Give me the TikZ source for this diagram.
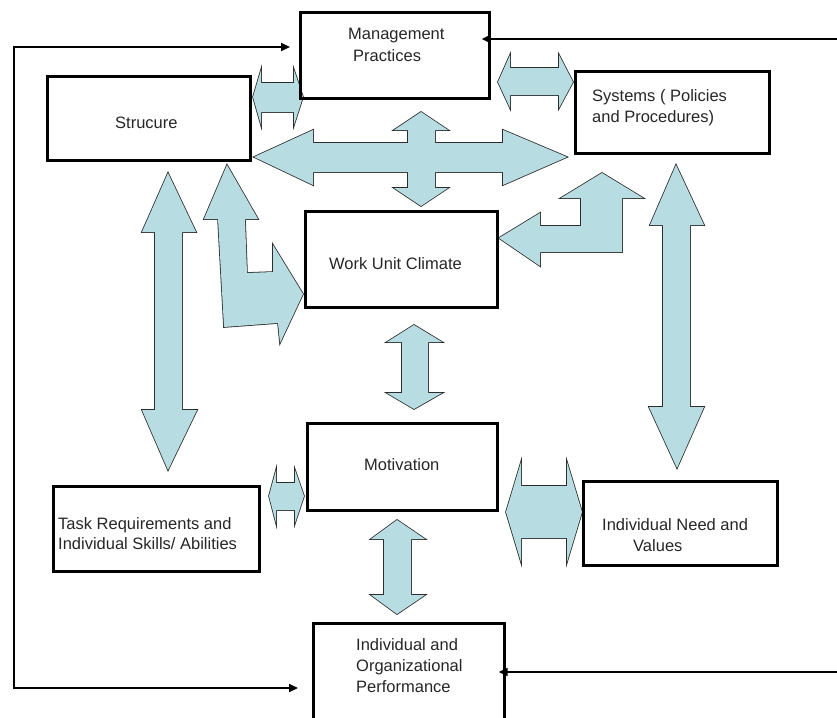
\documentclass[tikz,border=0pt]{standalone}
\usepackage{fontspec}
\setmainfont{Liberation Sans}
\usetikzlibrary{arrows.meta,calc}

\definecolor{arrfill}{RGB}{183,221,226}
\definecolor{arrline}{RGB}{45,45,45}

% All block arrows as closed outlines; called twice (stroke, then fill)
% so that overlapping arrows merge into one shape.
\newcommand\blockarrows[1]{%
  % Structure <-> Management Practices
  \path[#1] (253,97) -- (261,70) -- (261,83) -- (294,83) -- (294,70) -- (303,97)
    -- (294,125) -- (294,112) -- (261,112) -- (261,125) -- cycle;
  % Management Practices <-> Systems
  \path[#1] (498,82) -- (510,55) -- (510,68) -- (559,68) -- (559,55) -- (573,82)
    -- (559,108) -- (559,95) -- (510,95) -- (510,108) -- cycle;
  % Structure <-> Systems
  \path[#1] (254,157) -- (313,130) -- (313,143) -- (503,143) -- (503,130) -- (567,157)
    -- (503,185) -- (503,172) -- (313,172) -- (313,185) -- cycle;
  % Management Practices <-> Work Unit Climate
  \path[#1] (421,112) -- (448,130) -- (435,130) -- (435,188) -- (448,188) -- (421,206)
    -- (394,188) -- (408,188) -- (408,130) -- (394,130) -- cycle;
  % Structure <-> Work Unit Climate (bent)
  \path[#1] (227,165) -- (258,219) -- (245,219) -- (247,273) -- (273,272) -- (273,245)
    -- (303,294) -- (280,343) -- (278,323) -- (224,327) -- (218,219) -- (204,219) -- cycle;
  % Systems <-> Work Unit Climate (bent)
  \path[#1] (602,173) -- (643,198) -- (622,198) -- (622,252) -- (540,252) -- (540,266)
    -- (499,238) -- (540,213) -- (540,226) -- (581,226) -- (581,198) -- (561,198) -- cycle;
  % Structure <-> Task Requirements
  \path[#1] (168,173) -- (196,232) -- (182,232) -- (182,410) -- (197,410) -- (168,470)
    -- (142,410) -- (155,410) -- (155,232) -- (142,232) -- cycle;
  % Systems <-> Individual Need
  \path[#1] (676,165) -- (704,225) -- (690,225) -- (690,407) -- (704,407) -- (677,468)
    -- (649,407) -- (663,407) -- (663,225) -- (650,225) -- cycle;
  % Work Unit Climate <-> Motivation
  \path[#1] (414,325) -- (442,342) -- (428,342) -- (428,393) -- (442,393) -- (414,409)
    -- (387,393) -- (402,393) -- (402,342) -- (387,342) -- cycle;
  % Motivation <-> Performance
  \path[#1] (397,520) -- (425,539) -- (411,539) -- (411,595) -- (425,595) -- (397,614)
    -- (371,595) -- (384,595) -- (384,539) -- (371,539) -- cycle;
  % Task Requirements <-> Motivation
  \path[#1] (269,496) -- (276,470) -- (276,483) -- (295,483) -- (295,470) -- (304,496)
    -- (295,523) -- (295,510) -- (276,510) -- (276,523) -- cycle;
  % Motivation <-> Individual Need
  \path[#1] (506,512) -- (521,462) -- (521,486) -- (567,486) -- (567,462) -- (582,512)
    -- (567,562) -- (567,538) -- (521,538) -- (521,562) -- cycle;
}

\begin{document}
\begin{tikzpicture}[x=1pt,y=-1pt,
  box/.style={draw, line width=3.4pt, line join=miter, anchor=north west,
    inner sep=0pt, outer sep=0pt},
  lbl/.style={anchor=base west, inner sep=0pt,
    font=\fontsize{16.5}{21}\selectfont, text=black!85},
  tipshape/.style={line width=1.8pt, line join=miter},
  fbtip/.tip={Triangle[length=9pt,width=8pt]}]
\useasboundingbox (0,0) rectangle (837,717);
\clip (0,0) rectangle (837,717);

% block arrows: dark outline first, then the fill on top
\blockarrows{draw=arrline, line width=1.6pt, line join=miter}
\blockarrows{fill=arrfill}

% boxes
\node[box, minimum width=188.6pt, minimum height=85.6pt]  (mgmt)   at (300.7,12.7)  {};
\node[box, minimum width=202.6pt, minimum height=83.6pt]  (struct) at (47.7,76.7)   {};
\node[box, minimum width=193.6pt, minimum height=81.6pt]  (sys)    at (575.7,71.7)  {};
\node[box, minimum width=191.6pt, minimum height=95.6pt]  (wuc)    at (305.7,211.7) {};
\node[box, minimum width=189.6pt, minimum height=86.6pt]  (motiv)  at (307.7,423.7) {};
\node[box, minimum width=205.6pt, minimum height=84.6pt]  (task)   at (53.7,486.7)  {};
\node[box, minimum width=193.6pt, minimum height=83.6pt]  (need)   at (583.7,481.7) {};
\node[box, minimum width=190.6pt, minimum height=136.6pt] (perf)   at (313.7,623.7) {};

% box texts
\node[lbl] (tmgmt1) at (348,40)  {Management};
\node[lbl] (tmgmt2) at (353,61)  {Practices};
\node[lbl] (tstr)   at (115,128) {Strucure};
\node[lbl] (tsys1)  at (592,101) {Systems ( Policies};
\node[lbl] (tsys2)  at (592,122) {and Procedures)};
\node[lbl] (twuc)   at (329,269) {Work Unit Climate};
\node[lbl] (tmot)   at (364,470) {Motivation};
\node[lbl] (ttask1) at (58,529)  {Task Requirements and};
\node[lbl] (ttask2) at (58,549)  {Individual Skills/ Abilities};
\node[lbl] (tneed1) at (602,530) {Individual Need and};
\node[lbl] (tneed2) at (633,551) {Values};
\node[lbl] (tperf1) at (356,650) {Individual and};
\node[lbl] (tperf2) at (356,671) {Organizational};
\node[lbl] (tperf3) at (356,692) {Performance};

% feedback loops
\coordinate (fbTL) at (14,47);
\coordinate (fbBL) at (14,688);
\coordinate (fbTR) at (837,39);
\coordinate (fbBR) at (837,672);
\draw[tipshape, fbtip-fbtip, shorten <=10.7pt, shorten >=15.7pt]
  (mgmt.west |- fbTL) -- (fbTL) -- (fbBL) -- (perf.west |- fbBL);
\draw[tipshape, -fbtip, shorten >=-7.7pt] (fbTR) -- (mgmt.east |- fbTR);
\draw[tipshape, -fbtip, shorten >=-5.7pt] (fbBR) -- (perf.east |- fbBR);
\end{tikzpicture}
\end{document}
